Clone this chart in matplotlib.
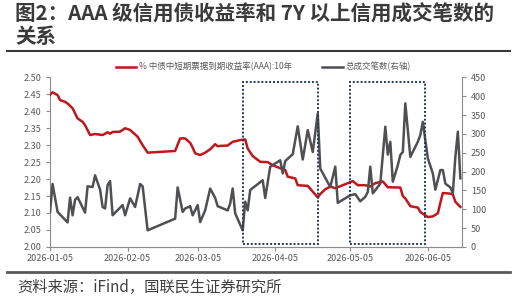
import matplotlib
matplotlib.use("Agg")
import matplotlib.pyplot as plt
import matplotlib.dates as mdates
from matplotlib.patches import Rectangle
from matplotlib.lines import Line2D
import pandas as pd

plt.rcParams['font.family'] = ['Noto Sans CJK SC', 'DejaVu Sans']
plt.rcParams['axes.unicode_minus'] = False

# yield, % (left axis)
yield_dates = ['2026-01-05', '2026-01-06', '2026-01-08', '2026-01-09', '2026-01-11', '2026-01-12',
               '2026-01-14', '2026-01-16', '2026-01-18', '2026-01-19', '2026-01-21', '2026-01-23',
               '2026-01-26', '2026-01-28', '2026-01-29', '2026-01-30', '2026-02-02', '2026-02-04',
               '2026-02-06', '2026-02-09', '2026-02-11', '2026-02-13', '2026-02-24', '2026-02-26',
               '2026-02-28', '2026-03-02', '2026-03-03', '2026-03-04', '2026-03-06', '2026-03-08',
               '2026-03-10', '2026-03-12', '2026-03-13', '2026-03-14', '2026-03-17', '2026-03-19',
               '2026-03-22', '2026-03-24', '2026-03-25', '2026-03-27', '2026-03-30', '2026-04-02',
               '2026-04-04', '2026-04-07', '2026-04-09', '2026-04-10', '2026-04-13', '2026-04-14',
               '2026-04-18', '2026-04-20', '2026-04-22', '2026-04-23', '2026-04-25', '2026-04-27',
               '2026-04-29', '2026-05-02', '2026-05-05', '2026-05-06', '2026-05-08', '2026-05-11',
               '2026-05-13', '2026-05-15', '2026-05-18', '2026-05-20', '2026-05-25', '2026-05-26',
               '2026-05-27', '2026-05-29', '2026-06-01', '2026-06-02', '2026-06-04', '2026-06-05',
               '2026-06-07', '2026-06-09', '2026-06-10', '2026-06-11', '2026-06-14', '2026-06-15',
               '2026-06-16', '2026-06-18']
yield_vals = [2.449, 2.456, 2.448, 2.433, 2.428, 2.423,
              2.409, 2.379, 2.369, 2.359, 2.330, 2.333,
              2.330, 2.338, 2.334, 2.339, 2.340, 2.350,
              2.345, 2.325, 2.300, 2.278, 2.283, 2.320,
              2.320, 2.307, 2.293, 2.276, 2.271, 2.278,
              2.288, 2.303, 2.297, 2.298, 2.299, 2.310,
              2.315, 2.317, 2.290, 2.268, 2.251, 2.250,
              2.241, 2.232, 2.227, 2.207, 2.202, 2.182,
              2.180, 2.163, 2.146, 2.156, 2.170, 2.178,
              2.173, 2.182, 2.191, 2.194, 2.182, 2.182,
              2.178, 2.188, 2.193, 2.176, 2.175, 2.150,
              2.143, 2.120, 2.116, 2.103, 2.093, 2.088,
              2.090, 2.099, 2.130, 2.159, 2.157, 2.155,
              2.133, 2.118]

# trade count (right axis)
count_dates = ['2026-01-05', '2026-01-06', '2026-01-08', '2026-01-12', '2026-01-13', '2026-01-14',
               '2026-01-15', '2026-01-16', '2026-01-19', '2026-01-20', '2026-01-22', '2026-01-23',
               '2026-01-25', '2026-01-26', '2026-01-27', '2026-01-28', '2026-01-29', '2026-01-30',
               '2026-02-03', '2026-02-04', '2026-02-06', '2026-02-08', '2026-02-10', '2026-02-11',
               '2026-02-13', '2026-02-24', '2026-02-25', '2026-02-27', '2026-02-28', '2026-03-02',
               '2026-03-03', '2026-03-05', '2026-03-06', '2026-03-08', '2026-03-10', '2026-03-12',
               '2026-03-13', '2026-03-17', '2026-03-18', '2026-03-19', '2026-03-20', '2026-03-23',
               '2026-03-24', '2026-03-25', '2026-03-26', '2026-03-31', '2026-04-01', '2026-04-03',
               '2026-04-07', '2026-04-08', '2026-04-09', '2026-04-12', '2026-04-14', '2026-04-16',
               '2026-04-18', '2026-04-20', '2026-04-22', '2026-04-23', '2026-04-27', '2026-04-29',
               '2026-04-30', '2026-05-05', '2026-05-07', '2026-05-09', '2026-05-11', '2026-05-12',
               '2026-05-13', '2026-05-14', '2026-05-17', '2026-05-19', '2026-05-20', '2026-05-21',
               '2026-05-22', '2026-05-24', '2026-05-25', '2026-05-26', '2026-05-27', '2026-05-29',
               '2026-06-01', '2026-06-02', '2026-06-03', '2026-06-05', '2026-06-07', '2026-06-08',
               '2026-06-10', '2026-06-11', '2026-06-12', '2026-06-14', '2026-06-15', '2026-06-16',
               '2026-06-17', '2026-06-18']
count_vals = [93, 167, 93, 65, 131, 84,
              125, 132, 91, 161, 159, 190,
              152, 106, 102, 164, 175, 84,
              111, 84, 129, 106, 167, 161,
              44, 75, 158, 93, 102, 108,
              84, 111, 66, 97, 155, 130,
              108, 97, 115, 155, 89, 44,
              120, 97, 151, 177, 130, 213,
              230, 195, 228, 246, 320, 232,
              310, 252, 354, 208, 159, 213,
              117, 137, 140, 121, 133, 146,
              213, 142, 168, 319, 245, 279,
              173, 217, 244, 252, 381, 239,
              279, 297, 332, 235, 195, 152,
              204, 204, 168, 158, 143, 239,
              306, 182]

# highlighted periods
box_starts = ['2026-03-23', '2026-05-05']
box_ends = ['2026-04-22', '2026-06-04']

xtick_dates = ['2026-01-05', '2026-02-05', '2026-03-05', '2026-04-05', '2026-05-05', '2026-06-05']

title = '图2：AAA 级信用债收益率和 7Y 以上信用成交笔数的\n关系'
source = '资料来源：iFind，国联民生证券研究所'
label_yield = '% 中债中短期票据到期收益率(AAA):10年'
label_count = '总成交笔数(右轴)'

red = '#c0161c'
gray = '#4f5054'
axis_gray = '#8c8c8c'
text_gray = '#595959'

fig = plt.figure(figsize=(5.16, 3.0), dpi=100)
ax = fig.add_axes([0.097, 0.177, 0.798, 0.565])
ax2 = ax.twinx()

yd = pd.to_datetime(yield_dates)
cd = pd.to_datetime(count_dates)
l1, = ax.plot(yd, yield_vals, color=red, lw=1.8, label=label_yield, zorder=3)
l2, = ax2.plot(cd, count_vals, color=gray, lw=1.8, label=label_count, zorder=2)

ax.set_ylim(2.0, 2.5)
ax.set_yticks([2.0 + 0.05 * i for i in range(11)])
ax.yaxis.set_major_formatter(matplotlib.ticker.FormatStrFormatter('%.2f'))
ax2.set_ylim(0, 450)
ax2.set_yticks(range(0, 451, 50))
ax.set_xlim(pd.Timestamp('2026-01-05'), pd.Timestamp('2026-06-18 14:00'))
ax.set_xticks(pd.to_datetime(xtick_dates))
ax.xaxis.set_major_formatter(mdates.DateFormatter('%Y-%m-%d'))

for a in (ax, ax2):
    a.spines['top'].set_visible(False)
    for s in ('left', 'right', 'bottom'):
        a.spines[s].set_color(axis_gray)
        a.spines[s].set_linewidth(0.8)
    a.tick_params(colors=axis_gray, labelcolor=text_gray, labelsize=6.5, length=3, width=0.8)
ax.tick_params(axis='x', pad=2)
ax.spines['right'].set_visible(False)
ax2.spines['left'].set_visible(False)

# dotted boxes over the two periods
for s, e in zip(box_starts, box_ends):
    x0 = mdates.date2num(pd.Timestamp(s))
    x1 = mdates.date2num(pd.Timestamp(e))
    ax2.add_patch(Rectangle((x0, 8), x1 - x0, 429, fill=False, ls=(0, (1, 1)),
                            lw=1.4, edgecolor='#1f3b5c', zorder=4))

fig.legend(handles=[l1, l2], loc='center', bbox_to_anchor=(0.51, 0.777), ncol=2,
           frameon=False, fontsize=6.1, handlelength=2.4, columnspacing=3.6,
           handletextpad=0.3, labelcolor=text_gray)

fig.text(0.029, 0.988, title, ha='left', va='top', fontsize=14.8, fontweight='bold',
         color='#3a3a3a', linespacing=1.08)
fig.add_artist(Line2D([0.014, 0.988], [0.83, 0.83], color='#3a3a3a', lw=1.5))
fig.add_artist(Line2D([0.014, 0.988], [0.094, 0.094], color='#595959', lw=2.0))
fig.text(0.033, 0.043, source, ha='left', va='center', fontsize=11, color='#404040')

fig.savefig('out.png', dpi=100)
